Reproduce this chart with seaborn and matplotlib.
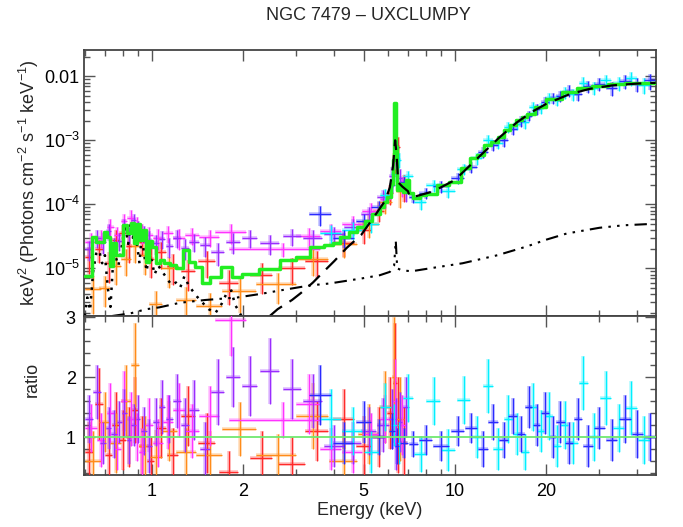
import numpy as np
import pandas as pd
import matplotlib
matplotlib.use("Agg")
import matplotlib.pyplot as plt
import seaborn as sns
from matplotlib.ticker import FixedLocator, FixedFormatter, MultipleLocator, LogLocator, NullFormatter

# ---------------- data ----------------
# soft X-ray datasets
purple_E = [0.62,0.66,0.69,0.72,0.75,0.78,0.81,0.84,0.87,0.90,0.94,0.98,1.03,1.08,1.14,1.21,1.29,1.38,1.50,1.65,1.85,2.1,2.45,2.9,3.4,4.0,4.6,5.2,5.8,6.2,6.4,6.6,6.9]
purple_dE = [0.02,0.02,0.015,0.015,0.015,0.015,0.015,0.015,0.015,0.015,0.02,0.02,0.025,0.025,0.03,0.035,0.04,0.05,0.06,0.08,0.1,0.12,0.17,0.2,0.25,0.3,0.3,0.3,0.25,0.12,0.06,0.1,0.15]
purple_F = [2.0e-5,3.0e-5,2.6e-5,3.8e-5,2.2e-5,2.7e-5,4.6e-5,3.4e-5,5.6e-5,4.2e-5,3.5e-5,2.8e-5,2.5e-5,2.9e-5,2.2e-5,3.0e-5,2.1e-5,2.6e-5,2.3e-5,1.8e-5,2.6e-5,3.0e-5,2.5e-5,3.2e-5,3.0e-5,3.4e-5,4.5e-5,7.0e-5,1.3e-4,2.8e-4,1.1e-3,2.6e-4,1.7e-4]
purple_Ffrac = [0.35,0.3,0.35,0.3,0.35,0.3,0.3,0.3,0.25,0.3,0.3,0.35,0.35,0.3,0.35,0.3,0.35,0.3,0.35,0.4,0.35,0.3,0.35,0.3,0.3,0.3,0.3,0.3,0.3,0.35,0.3,0.35,0.35]
purple_R = [1.3,1.75,0.9,1.15,1.05,1.25,1.4,0.95,1.2,1.3,1.1,0.85,1.25,1.5,1.3,1.6,1.2,1.45,0.8,1.75,2.0,1.85,2.1,1.8,1.6,0.85,0.9,1.1,1.2,1.3,1.05,1.25,1.5]
purple_dR = [0.4,0.45,0.35,0.35,0.4,0.35,0.4,0.4,0.35,0.4,0.4,0.45,0.4,0.45,0.4,0.45,0.45,0.5,0.45,0.55,0.5,0.5,0.55,0.5,0.45,0.35,0.35,0.4,0.45,0.5,0.6,0.5,0.5]

magenta_E = [0.63,0.68,0.73,0.77,0.81,0.85,0.89,0.93,0.98,1.05,1.13,1.23,1.36,1.55,1.83,2.7,3.3,3.9,4.6,5.3,5.9,6.35,6.7]
magenta_dE = [0.03,0.02,0.02,0.02,0.02,0.02,0.02,0.02,0.03,0.04,0.04,0.06,0.07,0.12,0.22,0.9,0.3,0.3,0.35,0.35,0.25,0.1,0.2]
magenta_F = [2.6e-5,3.0e-5,4.5e-5,3.3e-5,5.5e-5,6.2e-5,4.8e-5,3.7e-5,3.3e-5,3.0e-5,3.5e-5,3.0e-5,3.3e-5,3.1e-5,3.7e-5,2.0e-5,3.2e-5,3.8e-5,5.0e-5,8.0e-5,1.2e-4,6.0e-4,2.0e-4]
magenta_Ffrac = [0.35,0.3,0.3,0.35,0.3,0.3,0.3,0.35,0.35,0.35,0.3,0.35,0.3,0.3,0.35,0.25,0.35,0.3,0.3,0.3,0.3,0.4,0.35]
magenta_R = [1.15,0.95,1.4,0.8,1.6,1.3,1.0,0.75,1.2,0.9,1.25,1.45,1.1,1.35,2.95,1.28,1.55,0.8,0.75,1.05,1.3,1.6,1.2]
magenta_dR = [0.4,0.45,0.5,0.35,0.5,0.45,0.4,0.4,0.45,0.4,0.45,0.45,0.45,0.5,0.6,0.3,0.5,0.35,0.35,0.35,0.4,0.7,0.5]

red_E = [0.62,0.67,0.72,0.76,0.80,0.84,0.88,0.93,0.99,1.07,1.17,1.32,1.52,1.8,2.3,2.9,3.5,4.3,5.0,5.6,6.1,6.35,6.5,6.8]
red_dE = [0.02,0.02,0.02,0.02,0.02,0.02,0.02,0.025,0.03,0.04,0.05,0.07,0.1,0.13,0.2,0.3,0.3,0.35,0.3,0.25,0.15,0.08,0.07,0.15]
red_F = [1.5e-5,2.0e-5,1.2e-5,2.8e-5,3.5e-5,2.2e-5,3.8e-5,2.6e-5,1.4e-5,1.8e-5,1.1e-5,9e-6,1.3e-5,6e-6,8e-6,1.0e-5,1.3e-5,2.5e-5,4.0e-5,8.0e-5,1.5e-4,5.0e-4,8.0e-4,2.0e-4]
red_Ffrac = [0.45,0.4,0.5,0.4,0.35,0.45,0.35,0.4,0.5,0.45,0.5,0.5,0.45,0.55,0.5,0.45,0.45,0.4,0.4,0.35,0.35,0.4,0.4,0.45]
red_R = [0.75,1.55,0.7,1.2,0.95,1.0,1.45,0.85,0.6,1.15,0.7,1.35,0.9,0.42,0.65,0.55,1.1,1.3,0.85,1.0,1.4,1.9,1.2,0.9]
red_dR = [0.5,0.6,0.45,0.55,0.5,0.5,0.55,0.5,0.4,0.5,0.45,0.5,0.5,0.35,0.45,0.45,0.5,0.5,0.5,0.5,0.6,1.0,0.8,0.6]

orange_E = [0.64,0.70,0.76,0.82,0.88,0.95,1.03,1.14,1.3,1.55,1.95,2.6,3.4,4.3,5.2,5.9,6.3,6.6]
orange_dE = [0.04,0.03,0.03,0.03,0.03,0.04,0.05,0.07,0.1,0.15,0.25,0.4,0.4,0.45,0.4,0.3,0.1,0.2]
orange_F = [4.8e-6,5e-6,1.1e-5,1.4e-5,2.2e-5,1.6e-5,2.8e-6,1.0e-5,3.2e-6,2.6e-6,4.5e-6,5.6e-6,1.4e-5,2.4e-5,5.0e-5,1.1e-4,4.5e-4,1.6e-4]
orange_Ffrac = [0.6,0.5,0.5,0.45,0.45,0.5,0.6,0.5,0.6,0.6,0.55,0.5,0.45,0.4,0.4,0.35,0.4,0.45]
orange_R = [0.6,1.25,0.9,1.6,2.2,0.85,0.67,1.1,0.75,0.7,1.14,0.7,1.35,0.6,1.05,1.5,2.0,1.3]
orange_dR = [0.5,0.5,0.5,0.6,0.7,0.5,0.45,0.5,0.4,0.4,0.45,0.35,0.55,0.5,0.5,0.6,1.0,0.7]

# hard X-ray datasets
blue_E = [3.6,4.3,5.0,5.6,6.2,6.45,6.8,7.3,8.0,9.0,10.2,11.3,12.4,13.4,14.5,15.5,16.5,17.5,18.6,19.8,21,22.3,23.8,25.5,27.5,30,33,36.5,40,44]
blue_dE = [0.3,0.35,0.3,0.3,0.15,0.1,0.2,0.25,0.4,0.55,0.5,0.5,0.5,0.5,0.5,0.5,0.5,0.5,0.55,0.6,0.6,0.7,0.75,0.8,1.0,1.2,1.4,1.6,1.7,1.9]
blue_F = [7e-5,3.0e-5,5.5e-5,9e-5,2.0e-4,8.0e-4,2.2e-4,1.3e-4,1.5e-4,1.9e-4,2.6e-4,3.8e-4,6.5e-4,8.5e-4,1.0e-3,1.5e-3,2.0e-3,2.4e-3,3.1e-3,4.0e-3,4.6e-3,5.0e-3,6.0e-3,5.3e-3,7.0e-3,7.6e-3,6.5e-3,8.5e-3,7.5e-3,8.6e-3]
blue_Ffrac = [0.35,0.3,0.3,0.25,0.25,0.2,0.2,0.2,0.2,0.2,0.2,0.2,0.2,0.2,0.2,0.18,0.18,0.18,0.2,0.2,0.2,0.2,0.22,0.22,0.22,0.22,0.25,0.25,0.25,0.28]
blue_R = [1.7,0.9,1.25,1.0,1.1,0.85,0.9,0.88,0.95,0.85,1.1,1.15,0.8,1.25,0.95,1.35,1.05,1.5,1.2,1.4,1.0,1.25,0.9,1.3,0.85,1.15,0.95,1.3,1.05,1.0]
blue_dR = [0.5,0.35,0.35,0.3,0.3,0.3,0.25,0.22,0.25,0.25,0.25,0.25,0.3,0.3,0.3,0.3,0.3,0.35,0.35,0.35,0.35,0.35,0.35,0.35,0.35,0.35,0.35,0.4,0.4,0.4]

cyan_E = [3.9,4.6,5.3,5.9,6.3,6.55,7.0,7.7,8.5,9.5,10.7,11.8,12.9,13.9,15.0,16.0,17.0,18.1,19.2,20.4,21.7,23.0,24.6,26.5,28.7,31.5,34.7,38.2,42]
cyan_dE = [0.3,0.35,0.3,0.25,0.15,0.1,0.25,0.35,0.45,0.5,0.55,0.5,0.5,0.5,0.5,0.5,0.5,0.55,0.55,0.6,0.65,0.7,0.8,0.9,1.0,1.3,1.5,1.7,1.9]
cyan_F = [3.5e-5,4.0e-5,5.0e-5,1.4e-4,3.0e-4,5.0e-4,2.8e-4,1.1e-4,2.0e-4,1.6e-4,3.6e-4,5.2e-4,1.0e-3,9.0e-4,1.6e-3,1.8e-3,1.9e-3,3.3e-3,3.2e-3,4.6e-3,4.3e-3,5.6e-3,5.2e-3,8.0e-3,6.6e-3,8.6e-3,7.8e-3,9.5e-3,7.3e-3]
cyan_Ffrac = [0.35,0.3,0.3,0.25,0.25,0.25,0.2,0.25,0.22,0.22,0.2,0.2,0.2,0.2,0.2,0.2,0.2,0.2,0.2,0.2,0.2,0.22,0.22,0.22,0.22,0.22,0.25,0.25,0.28]
cyan_R = [1.3,1.1,0.75,1.5,1.2,0.9,1.65,0.72,1.6,0.78,1.62,1.0,1.85,0.8,1.3,1.05,0.75,1.5,1.1,1.35,0.85,1.2,0.9,1.9,1.0,1.65,1.15,1.48,0.95]
cyan_dR = [0.5,0.4,0.35,0.4,0.35,0.35,0.4,0.3,0.4,0.35,0.4,0.35,0.45,0.35,0.4,0.35,0.3,0.4,0.35,0.4,0.35,0.4,0.35,0.45,0.4,0.45,0.4,0.45,0.4]

# model components
total_E = [0.60,0.625,0.645,0.665,0.685,0.70,0.72,0.737,0.755,0.773,0.795,0.815,0.845,0.865,0.885,0.90,0.925,0.948,0.97,0.985,1.02,1.04,1.08,1.12,1.17,1.24,1.30,1.36,1.42,1.50,1.61,1.77,1.91,2.06,2.45,2.85,3.13,3.53,3.84,4.05,4.33,4.61,4.93,5.16,5.53,5.75,5.88,6.1,6.2,6.26,6.34,6.42,6.49,6.68,6.84,7.0,7.1,7.5,7.8,8.3,9.1,10.0,10.95,11.5,12.1,12.85,13.5,14.2,14.9,15.5,16.2,17.0,17.7,19.0,21.0,24.0,26.5,30.0,34.0,39.0,46.0]
total_V = [7.5e-6,7.5e-6,3.05e-5,2.55e-5,2.6e-5,3.65e-5,3.05e-5,1.1e-5,2.46e-5,1.6e-5,1.6e-5,4.7e-5,3.5e-5,5.05e-5,2.5e-5,5.0e-5,2.74e-5,3.9e-5,1.24e-5,2.7e-5,2.13e-5,1.2e-5,1.33e-5,1.2e-5,1.11e-5,1.0e-5,1.9e-5,1.24e-5,1.04e-5,6.0e-6,7.2e-6,1.04e-5,7.2e-6,8.1e-6,9.6e-6,1.33e-5,1.49e-5,2.13e-5,2.29e-5,2.5e-5,3.1e-5,3.7e-5,4.4e-5,5.5e-5,7.0e-5,9.0e-5,1.07e-4,1.3e-4,2.1e-4,4.9e-4,3.8e-3,7.8e-4,1.65e-4,2.1e-4,1.55e-4,2.4e-4,1.48e-4,1.24e-4,1.39e-4,1.45e-4,2.0e-4,2.2e-4,3.7e-4,5.2e-4,5.8e-4,8.3e-4,9.3e-4,1.12e-3,1.44e-3,1.71e-3,2.1e-3,2.3e-3,2.6e-3,3.3e-3,4.5e-3,5.6e-3,6.5e-3,7.0e-3,7.5e-3,7.8e-3,7.8e-3]

torus_E = [2.45,2.6,2.9,3.1,3.4,3.7,4.0,4.4,4.9,5.4,5.9,6.1,6.25,6.35,6.42,6.5,6.7,7.0,7.1,7.5,8.5,10,12,14,16,18,20,24,28,33,40,46]
torus_V = [1.8e-6,2.3e-6,3.2e-6,4.1e-6,6e-6,9e-6,1.3e-5,2.1e-5,3.3e-5,6.3e-5,1.16e-4,1.85e-4,4e-4,1.0e-3,6e-4,2.2e-4,1.9e-4,1.6e-4,1.3e-4,1.35e-4,1.6e-4,2.4e-4,5.5e-4,1.1e-3,1.9e-3,2.8e-3,3.7e-3,5.3e-3,6.4e-3,7.2e-3,7.7e-3,7.9e-3]

scatter_E = [0.74,0.85,0.96,1.06,1.24,1.5,1.91,2.3,2.64,3.32,3.86,4.5,4.97,5.65,6.1,6.3,6.38,6.45,6.68,7.2,8.27,10.6,13.8,17.3,20,23.4,30,36,43]
scatter_V = [1.8e-6,1.98e-6,2.3e-6,2.46e-6,2.9e-6,3.2e-6,3.5e-6,4.0e-6,4.5e-6,5.4e-6,5.8e-6,6.5e-6,7.0e-6,7.8e-6,8.8e-6,1.1e-5,2.7e-5,1.0e-5,9.3e-6,9.0e-6,1.0e-5,1.2e-5,1.6e-5,2.2e-5,2.8e-5,3.5e-5,4.3e-5,4.7e-5,4.9e-5]

thermal_E = [0.60,0.612,0.625,0.64,0.655,0.67,0.685,0.70,0.715,0.73,0.745,0.76,0.775,0.79,0.805,0.82,0.835,0.85,0.865,0.88,0.895,0.91,0.925,0.94,0.96,0.98,1.0,1.02,1.05,1.08,1.12,1.16,1.2,1.24,1.28,1.32,1.36,1.41,1.47,1.54,1.62,1.70,1.77,1.83,1.88,1.93,2.0]
thermal_V = [1.8e-6,3.5e-6,2.2e-6,9e-6,1.7e-5,1.9e-5,1.2e-5,1.6e-5,5e-6,2.5e-6,1.3e-5,1.5e-5,1.1e-5,1.8e-5,3.2e-5,4.2e-5,2.4e-5,5.0e-5,3.0e-5,4.3e-5,2.2e-5,1.2e-5,3.3e-5,1.9e-5,9e-6,1.6e-5,1.3e-5,8e-6,1.1e-5,9e-6,7e-6,5.5e-6,6e-6,5e-6,7.5e-6,5.5e-6,4.5e-6,3.6e-6,2.9e-6,2.3e-6,2.0e-6,2.8e-6,4.2e-6,4.5e-6,2.7e-6,2.2e-6,1.6e-6]

x_ticks = [1, 2, 5, 10, 20]
x_ticklabels = ["1", "2", "5", "10", "20"]
y_ticks = [1e-5, 1e-4, 1e-3, 1e-2]
y_ticklabels = ["$10^{-5}$", "$10^{-4}$", "$10^{-3}$", "0.01"]
r_ticks = [1, 2, 3]
r_ticklabels = ["1", "2", "3"]

# ---------------- style ----------------
sns.set_style("ticks")
plt.rcParams["font.family"] = ["Liberation Sans", "DejaVu Sans"]
plt.rcParams["mathtext.default"] = "regular"

fig = plt.figure(figsize=(6.83, 5.27), dpi=100)
ax1 = fig.add_axes([0.1230, 0.4004, 0.8375, 0.5047])
ax2 = fig.add_axes([0.1230, 0.0987, 0.8375, 0.3017])

for ax in (ax1, ax2):
    ax.set_xscale("log")
ax1.set_yscale("log")

datasets = [
    ("#ff2a2a", red_E, red_dE, red_F, red_Ffrac, red_R, red_dR),
    ("#ff8c1a", orange_E, orange_dE, orange_F, orange_Ffrac, orange_R, orange_dR),
    ("#ff33ff", magenta_E, magenta_dE, magenta_F, magenta_Ffrac, magenta_R, magenta_dR),
    ("#9a2cff", purple_E, purple_dE, purple_F, purple_Ffrac, purple_R, purple_dR),
    ("#00f0ff", cyan_E, cyan_dE, cyan_F, cyan_Ffrac, cyan_R, cyan_dR),
    ("#2a2aff", blue_E, blue_dE, blue_F, blue_Ffrac, blue_R, blue_dR),
]

for color, E, dE, F, Ff, R, dR in datasets:
    E = np.array(E); dE = np.array(dE); F = np.array(F)
    dF = F * np.array(Ff)
    for ax, Y, dY in ((ax1, F, dF), (ax2, np.array(R), np.array(dR))):
        ax.errorbar(E, Y, xerr=dE, yerr=dY, fmt="none", ecolor=color,
                    elinewidth=2.6, alpha=0.3, capsize=0, zorder=2)
        ax.errorbar(E, Y, xerr=dE, yerr=dY, fmt="none", ecolor=color,
                    elinewidth=0.9, capsize=0, zorder=3)

# model curves
sns.lineplot(x=thermal_E, y=thermal_V, ax=ax1, color="black", lw=1.8,
             linestyle=(0, (1, 2.5)), estimator=None, sort=False, zorder=5)
sns.lineplot(x=scatter_E, y=scatter_V, ax=ax1, color="black", lw=1.5,
             linestyle=(0, (6, 3, 1.2, 3, 1.2, 3, 1.2, 3)), estimator=None, sort=False, zorder=5)
sns.lineplot(x=total_E, y=total_V, ax=ax1, color="#22ee22", lw=2.5,
             drawstyle="steps-mid", estimator=None, sort=False, zorder=6)
sns.lineplot(x=torus_E, y=torus_V, ax=ax1, color="black", lw=1.6,
             linestyle=(0, (7, 4)), estimator=None, sort=False, zorder=7)

ax2.axhline(1.0, color="#6fe86f", lw=1.3, zorder=4)

# axes
for ax in (ax1, ax2):
    ax.set_xlim(0.597, 46.1)
    ax.xaxis.set_major_locator(FixedLocator(x_ticks))
    ax.xaxis.set_minor_locator(FixedLocator([0.6, 0.7, 0.8, 0.9, 3, 4, 6, 7, 8, 9, 30, 40]))
    ax.xaxis.set_minor_formatter(NullFormatter())
    ax.tick_params(which="both", direction="in", top=True, right=True,
                   colors="#555555", labelcolor="black", labelsize=13)
    ax.tick_params(which="major", length=8, width=1.0)
    ax.tick_params(which="minor", length=4, width=1.0)
    for s in ax.spines.values():
        s.set_color("#444444")
        s.set_linewidth(1.3)

ax1.tick_params(axis="x", which="both", labelbottom=False)
ax2.xaxis.set_major_formatter(FixedFormatter(x_ticklabels))
ax2.tick_params(axis="x", pad=6)

ax1.set_ylim(1.8e-6, 0.02575)
ax1.yaxis.set_major_locator(FixedLocator(y_ticks))
ax1.yaxis.set_major_formatter(FixedFormatter(y_ticklabels))
ax1.yaxis.set_minor_locator(LogLocator(base=10, subs=np.arange(2, 10)))
ax1.yaxis.set_minor_formatter(NullFormatter())
ax1.tick_params(axis="y", pad=3)

ax2.set_ylim(0.367, 3.02)
ax2.yaxis.set_major_locator(FixedLocator(r_ticks))
ax2.yaxis.set_major_formatter(FixedFormatter(r_ticklabels))
ax2.yaxis.set_minor_locator(MultipleLocator(0.2))
ax2.tick_params(axis="y", pad=6)

ax1.set_ylabel("keV$^2$ (Photons cm$^{-2}$ s$^{-1}$ keV$^{-1}$)", fontsize=13)
ax1.yaxis.set_label_coords(-0.076, 0.5)
ax2.set_ylabel("ratio", fontsize=13)
ax2.yaxis.set_label_coords(-0.076, 0.6)
ax2.set_xlabel("Energy (keV)", fontsize=13)
ax2.xaxis.set_label_coords(0.5, -0.17)

fig.text(0.539, 0.971, "NGC 7479 – UXCLUMPY", ha="center", va="center", fontsize=13)

fig.savefig("out.png", dpi=100)
